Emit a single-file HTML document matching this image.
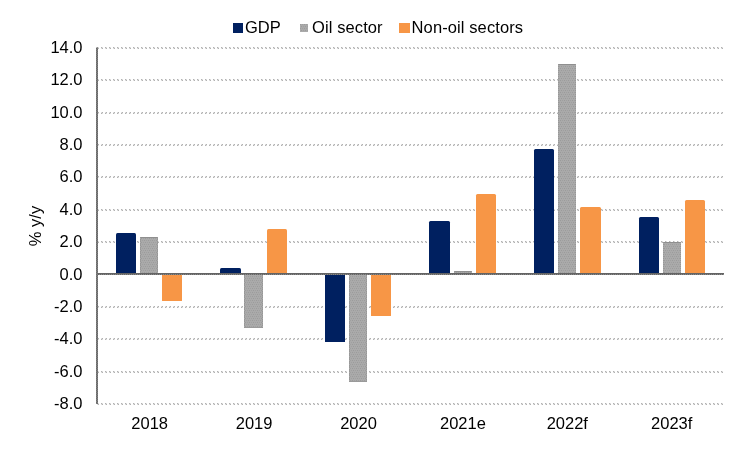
<!DOCTYPE html>
<html><head><meta charset="utf-8"><title>chart</title>
<style>
html,body{margin:0;padding:0;background:#fff;}
body{width:750px;height:450px;overflow:hidden;font-family:"Liberation Sans",sans-serif;}
svg{display:block;will-change:transform;}
text{font-family:"Liberation Sans",sans-serif;font-size:16.5px;fill:#000;}
</style></head><body>
<svg width="750" height="450" viewBox="0 0 750 450">
<defs>
<pattern id="gp" width="4" height="4" patternUnits="userSpaceOnUse">
<rect width="4" height="4" fill="#aaaaaa"/>
<rect x="0" y="0" width="1" height="1" fill="#9b9b9b"/>
<rect x="2" y="0" width="1" height="1" fill="#a0a0a0"/>
<rect x="1" y="2" width="1" height="1" fill="#9b9b9b"/>
<rect x="3" y="2" width="1" height="1" fill="#a0a0a0"/>
</pattern>
<pattern id="dp" x="1" y="1" width="4" height="2" patternUnits="userSpaceOnUse">
<rect x="0" y="0" width="1" height="1" fill="#b2b2b2"/>
<rect x="1" y="1" width="1" height="1" fill="#b2b2b2"/>
<rect x="1" y="0" width="1" height="1" fill="#dedede"/>
<rect x="0" y="1" width="1" height="1" fill="#dedede"/>
</pattern>
<pattern id="ax" x="0" y="0" width="2" height="2" patternUnits="userSpaceOnUse">
<rect width="2" height="2" fill="#696969"/>
<rect x="1" y="0" width="1" height="1" fill="#808080"/>
<rect x="0" y="1" width="1" height="1" fill="#808080"/>
</pattern>
<pattern id="ah" x="0" y="1" width="2" height="2" patternUnits="userSpaceOnUse">
<rect width="2" height="2" fill="#646464"/>
<rect x="1" y="1" width="1" height="1" fill="#8a8a8a"/>
</pattern>
</defs>
<rect width="750" height="450" fill="#fff"/>

<rect x="97" y="47" width="626" height="2" fill="url(#dp)"/>
<rect x="97" y="79" width="626" height="2" fill="url(#dp)"/>
<rect x="97" y="112" width="626" height="2" fill="url(#dp)"/>
<rect x="97" y="144" width="626" height="2" fill="url(#dp)"/>
<rect x="97" y="176" width="626" height="2" fill="url(#dp)"/>
<rect x="97" y="209" width="626" height="2" fill="url(#dp)"/>
<rect x="97" y="241" width="626" height="2" fill="url(#dp)"/>
<rect x="97" y="306" width="626" height="2" fill="url(#dp)"/>
<rect x="97" y="338" width="626" height="2" fill="url(#dp)"/>
<rect x="97" y="371" width="626" height="2" fill="url(#dp)"/>
<rect x="97" y="403" width="626" height="2" fill="url(#dp)"/>
<path d="M116,273 V234.5 Q116,233 117.5,233 H134.5 Q136,233 136,234.5 V273 Z" fill="#002060"/>
<rect x="140" y="237" width="18" height="36" fill="url(#gp)"/><rect x="140" y="237" width="18" height="1" fill="#8f8f8f"/><line x1="140.5" x2="140.5" y1="237" y2="273" stroke="#979797" stroke-width="1" stroke-dasharray="1 1"/><line x1="157.5" x2="157.5" y1="237" y2="273" stroke="#979797" stroke-width="1" stroke-dasharray="1 1"/>
<path d="M162,275 V300.5 Q162,301 162.5,301 H181.5 Q182,301 182,300.5 V275 Z" fill="#f79646"/>
<path d="M220,273 V269.5 Q220,268 221.5,268 H239.5 Q241,268 241,269.5 V273 Z" fill="#002060"/>
<rect x="244" y="275" width="19" height="53" fill="url(#gp)"/><rect x="244" y="327" width="19" height="1" fill="#9a9a9a"/><line x1="244.5" x2="244.5" y1="275" y2="328" stroke="#979797" stroke-width="1" stroke-dasharray="1 1"/><line x1="262.5" x2="262.5" y1="275" y2="328" stroke="#979797" stroke-width="1" stroke-dasharray="1 1"/>
<path d="M267,273 V230.5 Q267,229 268.5,229 H285.5 Q287,229 287,230.5 V273 Z" fill="#f79646"/>
<path d="M325,275 V341.5 Q325,342 325.5,342 H344.5 Q345,342 345,341.5 V275 Z" fill="#002060"/>
<rect x="349" y="275" width="18" height="107" fill="url(#gp)"/><rect x="349" y="381" width="18" height="1" fill="#9a9a9a"/><line x1="349.5" x2="349.5" y1="275" y2="382" stroke="#979797" stroke-width="1" stroke-dasharray="1 1"/><line x1="366.5" x2="366.5" y1="275" y2="382" stroke="#979797" stroke-width="1" stroke-dasharray="1 1"/>
<path d="M371,275 V315.5 Q371,316 371.5,316 H390.5 Q391,316 391,315.5 V275 Z" fill="#f79646"/>
<path d="M429,273 V222.5 Q429,221 430.5,221 H448.5 Q450,221 450,222.5 V273 Z" fill="#002060"/>
<rect x="454" y="271" width="18" height="2" fill="url(#gp)"/><rect x="454" y="271" width="18" height="1" fill="#8f8f8f"/><line x1="454.5" x2="454.5" y1="271" y2="273" stroke="#979797" stroke-width="1" stroke-dasharray="1 1"/><line x1="471.5" x2="471.5" y1="271" y2="273" stroke="#979797" stroke-width="1" stroke-dasharray="1 1"/>
<path d="M476,273 V195.5 Q476,194 477.5,194 H494.5 Q496,194 496,195.5 V273 Z" fill="#f79646"/>
<path d="M534,273 V150.5 Q534,149 535.5,149 H552.5 Q554,149 554,150.5 V273 Z" fill="#002060"/>
<rect x="558" y="64" width="18" height="209" fill="url(#gp)"/><rect x="558" y="64" width="18" height="1" fill="#8f8f8f"/><line x1="558.5" x2="558.5" y1="64" y2="273" stroke="#979797" stroke-width="1" stroke-dasharray="1 1"/><line x1="575.5" x2="575.5" y1="64" y2="273" stroke="#979797" stroke-width="1" stroke-dasharray="1 1"/>
<path d="M580,273 V208.5 Q580,207 581.5,207 H599.5 Q601,207 601,208.5 V273 Z" fill="#f79646"/>
<path d="M639,273 V218.5 Q639,217 640.5,217 H657.5 Q659,217 659,218.5 V273 Z" fill="#002060"/>
<rect x="663" y="242" width="18" height="31" fill="url(#gp)"/><rect x="663" y="242" width="18" height="1" fill="#8f8f8f"/><line x1="663.5" x2="663.5" y1="242" y2="273" stroke="#979797" stroke-width="1" stroke-dasharray="1 1"/><line x1="680.5" x2="680.5" y1="242" y2="273" stroke="#979797" stroke-width="1" stroke-dasharray="1 1"/>
<path d="M685,273 V201.5 Q685,200 686.5,200 H703.5 Q705,200 705,201.5 V273 Z" fill="#f79646"/>
<rect x="96" y="47.5" width="2" height="356.5" fill="url(#ax)"/>
<rect x="98" y="273" width="626" height="2" fill="url(#ah)"/>
<text x="82.5" y="52.7" text-anchor="end">14.0</text>
<text x="82.5" y="85.1" text-anchor="end">12.0</text>
<text x="82.5" y="117.5" text-anchor="end">10.0</text>
<text x="82.5" y="149.9" text-anchor="end">8.0</text>
<text x="82.5" y="182.3" text-anchor="end">6.0</text>
<text x="82.5" y="214.7" text-anchor="end">4.0</text>
<text x="82.5" y="247.1" text-anchor="end">2.0</text>
<text x="82.5" y="279.5" text-anchor="end">0.0</text>
<text x="82.5" y="311.9" text-anchor="end">-2.0</text>
<text x="82.5" y="344.3" text-anchor="end">-4.0</text>
<text x="82.5" y="376.7" text-anchor="end">-6.0</text>
<text x="82.5" y="409.1" text-anchor="end">-8.0</text>
<text x="149.7" y="429" text-anchor="middle">2018</text>
<text x="254.1" y="429" text-anchor="middle">2019</text>
<text x="358.5" y="429" text-anchor="middle">2020</text>
<text x="462.9" y="429" text-anchor="middle">2021e</text>
<text x="567.3" y="429" text-anchor="middle">2022f</text>
<text x="671.7" y="429" text-anchor="middle">2023f</text>
<text transform="translate(40.5,226) rotate(-90)" text-anchor="middle">% y/y</text>
<rect x="233" y="23" width="10" height="10" fill="#002060"/>
<text x="245" y="33">GDP</text>
<rect x="300" y="24" width="8" height="8" fill="url(#gp)"/>
<text x="312" y="33" letter-spacing="0.1">Oil sector</text>
<rect x="399" y="23" width="11" height="10" fill="#f79646"/>
<text x="411.6" y="33" letter-spacing="0.1">Non-oil sectors</text>
</svg></body></html>
